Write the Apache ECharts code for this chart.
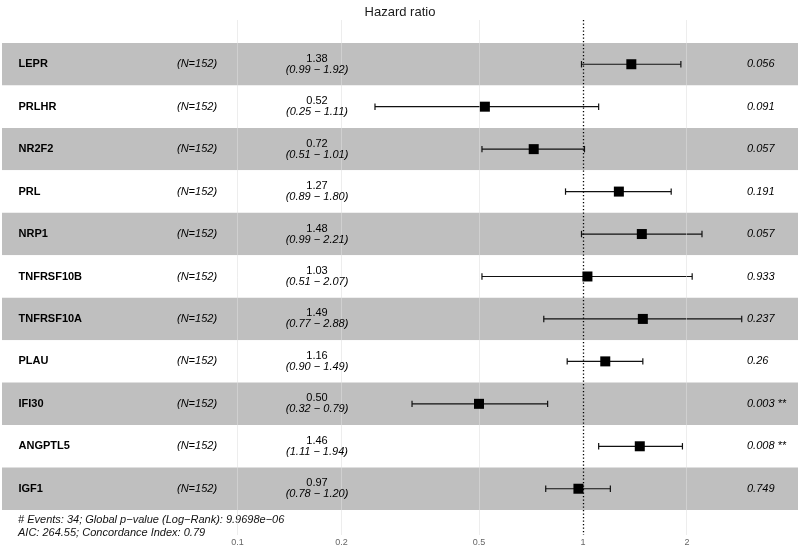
<!DOCTYPE html>
<html>
<head>
<meta charset="utf-8">
<script src="https://cdn.jsdelivr.net/npm/echarts@6/dist/echarts.min.js"></script>
<style>html,body{margin:0;padding:0;background:#fff}#c{width:800px;height:548px}</style>
</head>
<body>
<div id="c"></div>
<script>
// ---- data ----
const genes = ['LEPR','PRLHR','NR2F2','PRL','NRP1','TNFRSF10B','TNFRSF10A','PLAU','IFI30','ANGPTL5','IGF1'];
const nObs = [152,152,152,152,152,152,152,152,152,152,152];
const hr   = [1.38,0.52,0.72,1.27,1.48,1.03,1.49,1.16,0.50,1.46,0.97];
const ciLo = [0.99,0.25,0.51,0.89,0.99,0.51,0.77,0.90,0.32,1.11,0.78];
const ciHi = [1.92,1.11,1.01,1.80,2.21,2.07,2.88,1.49,0.79,1.94,1.20];
const pVals = ['0.056','0.091','0.057','0.191','0.057','0.933','0.237','0.26','0.003 **','0.008 **','0.749'];
const tickValues = [0.1, 0.2, 0.5, 1, 2];
const footer1 = '# Events: 34; Global p\u2212value (Log\u2212Rank): 9.9698e\u221206';
const footer2 = 'AIC: 264.55; Concordance Index: 0.79';

// ---- layout (log10 scale on a value axis) ----
const FONT = '"Liberation Sans", Arial, sans-serif';
const pxPerDec = 345.5, px1 = 583;
const toX = px => (px - px1) / pxPerDec;       // pixel -> log10 value (for text column anchors)
const L = Math.log10;
const xMin = toX(0), xMax = toX(800);
const bandL = toX(2), bandR = toX(798);
const colName = toX(18.5), colN = toX(177), colHR = toX(317), colP = toX(747);

const rows = genes.map((g, i) => i + 1);

const bandData = rows.map((r, i) => [
  { xAxis: bandL, yAxis: r - 0.5, itemStyle: { color: i % 2 === 0 ? '#bfbfbf' : '#ffffff', opacity: 1 } },
  { xAxis: bandR, yAxis: r + 0.5 }
]);

const fmt2 = v => v.toFixed(2);

const textSeries = (data, label) => ({
  type: 'scatter', z: 6, symbolSize: 0, silent: true,
  itemStyle: { opacity: 1 },
  data, label: Object.assign({ show: true, position: 'inside', verticalAlign: 'middle', opacity: 1 }, label)
});

const option = {
  animation: false,
  backgroundColor: '#fff',
  textStyle: { fontFamily: FONT },
  title: {
    text: 'Hazard ratio', left: 'center', top: 1,
    textStyle: { fontFamily: FONT, fontSize: 13, fontWeight: 'normal', color: '#1a1a1a' }
  },
  grid: { left: 0, right: 0, top: 20, bottom: 13, containLabel: false },
  xAxis: {
    type: 'value', min: xMin, max: xMax,
    axisLine: { show: false }, axisTick: { show: false }, splitLine: { show: false },
    axisLabel: {
      show: true, margin: 3, fontSize: 9, color: '#666', fontFamily: FONT,
      customValues: tickValues.map(L),
      formatter: v => String(+Math.pow(10, v).toFixed(2))
    }
  },
  yAxis: {
    type: 'value', min: -0.042, max: 12.09, inverse: true, show: false
  },
  series: [
    { // row bands + gridlines
      type: 'scatter', data: [], silent: true,
      markArea: { silent: true, data: bandData, z: 1 },
      markLine: {
        silent: true, symbol: 'none', label: { show: false },
        lineStyle: { color: 'rgba(222,222,222,0.55)', type: 'solid', width: 1 },
        data: tickValues.filter(v => v !== 1).map(v => ({ xAxis: L(v) }))
      }
    },
    { // reference line at HR = 1
      type: 'scatter', data: [], silent: true, z: 3,
      markLine: {
        silent: true, symbol: 'none', label: { show: false },
        lineStyle: { color: '#000', type: [1.3, 2.2], width: 1.3 },
        data: [{ xAxis: L(1) }]
      }
    },
    { // confidence intervals
      type: 'custom', z: 4,
      data: rows.map((r, i) => [L(ciLo[i]), L(ciHi[i]), r]),
      encode: { x: [0, 1], y: 2 },
      renderItem: (params, api) => {
        const a = api.coord([api.value(0), api.value(2)]);
        const b = api.coord([api.value(1), api.value(2)]);
        const h = 3.2;
        const st = { stroke: '#111', lineWidth: 1.2 };
        return { type: 'group', children: [
          { type: 'line', shape: { x1: a[0], y1: a[1], x2: b[0], y2: b[1] }, style: st },
          { type: 'line', shape: { x1: a[0], y1: a[1] - h, x2: a[0], y2: a[1] + h }, style: st },
          { type: 'line', shape: { x1: b[0], y1: b[1] - h, x2: b[0], y2: b[1] + h }, style: st }
        ]};
      }
    },
    { // point estimates
      type: 'scatter', z: 5, symbol: 'rect', symbolSize: 10,
      itemStyle: { color: '#000', opacity: 1 },
      data: rows.map((r, i) => [L(hr[i]), r])
    },
    textSeries(rows.map((r, i) => [colName, r, genes[i]]),
      { align: 'left', formatter: p => p.data[2], fontFamily: FONT, fontSize: 11, fontWeight: 'bold', color: '#000' }),
    textSeries(rows.map((r, i) => [colN, r, '(N=' + nObs[i] + ')']),
      { align: 'left', formatter: p => p.data[2], fontFamily: FONT, fontSize: 11, fontStyle: 'italic', color: '#000' }),
    textSeries(rows.map((r, i) => [colHR, r, fmt2(hr[i]), '(' + fmt2(ciLo[i]) + ' \u2212 ' + fmt2(ciHi[i]) + ')']),
      { align: 'center',
        formatter: p => '{a|' + p.data[2] + '}\n{b|' + p.data[3] + '}',
        rich: {
          a: { fontFamily: FONT, fontSize: 11, color: '#000', lineHeight: 11, align: 'center' },
          b: { fontFamily: FONT, fontSize: 11, fontStyle: 'italic', color: '#000', lineHeight: 11, align: 'center' }
        } }),
    textSeries(rows.map((r, i) => [colP, r, pVals[i]]),
      { align: 'left', formatter: p => p.data[2], fontFamily: FONT, fontSize: 11, fontStyle: 'italic', color: '#000' })
  ],
  graphic: [
    { type: 'text', left: 18, top: 514, style: { text: footer1, font: 'italic 11px ' + FONT, fill: '#111' } },
    { type: 'text', left: 18, top: 527, style: { text: footer2, font: 'italic 11px ' + FONT, fill: '#111' } }
  ]
};

const chart = echarts.init(document.getElementById('c'), null, { renderer: 'canvas' });
chart.setOption(option);
</script>
</body>
</html>
